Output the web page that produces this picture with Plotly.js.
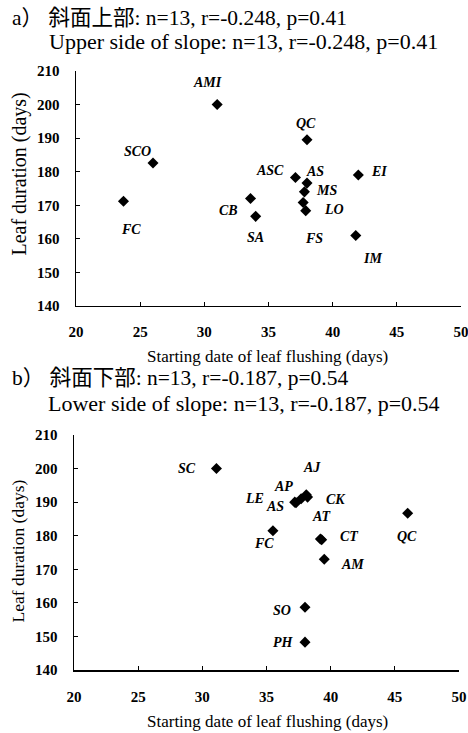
<!DOCTYPE html>
<html>
<head>
<meta charset="utf-8">
<script src="https://cdn.plot.ly/plotly-3.0.1.min.js"></script>
<style>html,body{margin:0;padding:0;background:#fff;}#chart{width:468px;height:733px;}</style>
</head>
<body>
<div id="chart"></div>
<script>
// Upper side of slope (panel a)
const upperNames = ['AMI','QC','SCO','FC','CB','SA','ASC','AS','MS','LO','FS','EI','IM'];
const upperStart = [31.0, 38.0, 26.0, 23.7, 33.6, 34.0, 37.1, 38.0, 37.8, 37.7, 37.9, 42.0, 41.8];
const upperDuration = [200.0, 189.5, 182.6, 171.2, 172.0, 166.7, 178.3, 176.6, 174.0, 170.8, 168.4, 179.0, 161.0];

// Lower side of slope (panel b)
const lowerNames = ['SC','LE','AS','AP','AJ','CK','AT','CT','FC','QC','AM','SO','PH'];
const lowerStart = [31.1, 37.2, 37.3, 37.7, 38.1, 38.2, 39.2, 39.3, 35.5, 46.0, 39.5, 38.0, 38.0];
const lowerDuration = [200.0, 190.0, 189.8, 191.0, 192.2, 191.5, 179.0, 178.8, 181.5, 186.7, 173.0, 158.7, 148.3];

// Axis ticks
const xTicks = [20, 25, 30, 35, 40, 45, 50];
const yTicks = [140, 150, 160, 170, 180, 190, 200, 210];

// Texts
const titleA1 = 'a） 斜面上部: n=13, r=-0.248, p=0.41';
const titleA2 = 'Upper side of slope: n=13, r=-0.248, p=0.41';
const titleB1 = 'b） 斜面下部: n=13, r=-0.187, p=0.54';
const titleB2 = 'Lower side of slope: n=13, r=-0.187, p=0.54';
const xTitle = 'Starting date of leaf flushing (days)';
const yTitle = 'Leaf duration (days)';

// Label pixel offsets (layout only): [dx, dy] with dy positive downward
const upperLabelOffsets = [[-10,-22],[-1,-16],[-16,-11],[8,28],[-22,12],[0,21],[-25,-7],[8,-12],[22,-1],[31,7],[8,28],[21,-4],[17,23]];
const lowerLabelOffsets = [[-29,0],[-40,-4],[-21,4],[-18,-12],[6,-27],[28,2],[2,-23],[28,-3],[-9,13],[-1,23],[28,5],[-23,3],[-22,0]];

const SERIF = "'Liberation Serif', Tinos, 'Times New Roman', 'DejaVu Serif', 'Noto Sans CJK JP', serif";

const marker = {symbol: 'diamond', size: 8.5, color: '#000', line: {width: 0}};

const traces = [
  {type: 'scatter', mode: 'markers', x: upperStart, y: upperDuration, xaxis: 'x', yaxis: 'y', marker: marker, hoverinfo: 'skip'},
  {type: 'scatter', mode: 'markers', x: lowerStart, y: lowerDuration, xaxis: 'x2', yaxis: 'y2', marker: marker, hoverinfo: 'skip'}
];

function axisX(domain, anchor) {
  return {
    domain: domain, anchor: anchor, range: [20, 50], tickvals: xTicks, ticktext: xTicks.map(String),
    ticks: 'inside', ticklen: 4, tickwidth: 1.2, tickcolor: '#000',
    showline: true, linecolor: '#000', linewidth: 1.5, showgrid: false, zeroline: false,
    tickfont: {family: SERIF, size: 15, color: '#000', weight: 'bold'},
    ticklabelstandoff: 12, ticklabeloverflow: 'allow', fixedrange: true
  };
}
function axisY(domain, anchor) {
  return {
    domain: domain, anchor: anchor, range: [140, 210], tickvals: yTicks, ticktext: yTicks.map(String),
    ticks: 'inside', ticklen: 4, tickwidth: 1.2, tickcolor: '#000',
    showline: true, linecolor: '#000', linewidth: 1.5, showgrid: false, zeroline: false,
    tickfont: {family: SERIF, size: 15, color: '#000', weight: 'bold'},
    ticklabelstandoff: 12, ticklabeloverflow: 'allow', fixedrange: true
  };
}

const annotations = [];
function addLabels(names, xs, ys, offs, xref, yref) {
  names.forEach((n, i) => {
    annotations.push({
      text: n, x: xs[i], y: ys[i], xref: xref, yref: yref, showarrow: false,
      xanchor: 'center', yanchor: 'middle', xshift: offs[i][0], yshift: -offs[i][1],
      font: {family: SERIF, size: 14, color: '#000', weight: 'bold', style: 'italic'}
    });
  });
}
addLabels(upperNames, upperStart, upperDuration, upperLabelOffsets, 'x', 'y');
addLabels(lowerNames, lowerStart, lowerDuration, lowerLabelOffsets, 'x2', 'y2');

function textAnn(text, x, y, size, opts) {
  annotations.push(Object.assign({
    text: text, x: x, y: y, xref: 'paper', yref: 'paper', showarrow: false,
    xanchor: 'left', yanchor: 'middle',
    font: {family: SERIF, size: size, color: '#000'}
  }, opts || {}));
}
// panel titles
textAnn(titleA1, -0.1654, 1.0885, 21.5);
textAnn(titleA2, -0.0698, 1.049, 22);
textAnn(titleB1, -0.1654, 0.4875, 21.5);
textAnn(titleB2, -0.0724, 0.4441, 22);
// x titles
textAnn(xTitle, 0.501, 0.523, 17, {xanchor: 'center'});
textAnn(xTitle, 0.501, -0.0863, 17, {xanchor: 'center'});
// y titles
textAnn(yTitle, -0.1408, 0.828, 20, {xanchor: 'center', textangle: -90});
textAnn(yTitle, -0.1447, 0.1978, 17.5, {xanchor: 'center', textangle: -90});

const layout = {
  width: 468, height: 733,
  margin: {l: 74, r: 7, t: 71, b: 63, pad: 0},
  paper_bgcolor: '#fff', plot_bgcolor: '#fff',
  showlegend: false,
  xaxis: axisX([0.00517, 1], 'y'),
  yaxis: axisY([0.6077, 1], 'x'),
  xaxis2: axisX([0, 0.99483], 'y2'),
  yaxis2: axisY([0, 0.3923], 'x2'),
  annotations: annotations,
  font: {family: SERIF, color: '#000'}
};

Plotly.newPlot('chart', traces, layout, {staticPlot: true, displayModeBar: false});
</script>
</body>
</html>
